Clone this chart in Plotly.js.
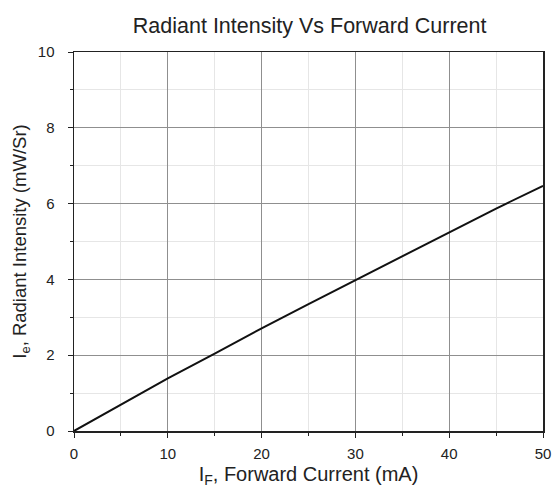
<!DOCTYPE html>
<html><head><meta charset="utf-8">
<script src="https://cdn.plot.ly/plotly-3.0.1.min.js"></script>
<style>html,body{margin:0;padding:0;background:#fff}#chart{width:552px;height:488px}</style>
</head><body><div id="chart"></div>
<script>
const forwardCurrent = [0, 5, 10, 15, 20, 25, 30, 35, 40, 45, 50];
const radiantIntensity = [0, 0.70, 1.39, 2.04, 2.71, 3.35, 3.98, 4.62, 5.24, 5.87, 6.47];
const chartTitle = 'Radiant Intensity Vs Forward Current';
const xTitle = 'I<sub>F</sub>, Forward Current (mA)';
const yTitle = 'I<sub>e</sub>, Radiant Intensity (mW/Sr)';

const font = {family: 'Liberation Sans, Arial, sans-serif', color: '#222'};
Plotly.newPlot('chart', [{
  x: forwardCurrent, y: radiantIntensity, type: 'scatter', mode: 'lines',
  line: {color: '#111', width: 2}, showlegend: false
}], {
  width: 552, height: 488,
  margin: {l: 74, r: 9, t: 52, b: 57},
  paper_bgcolor: '#fff', plot_bgcolor: '#fff',
  font: Object.assign({size: 15}, font),
  title: {text: chartTitle, x: 0.561, xanchor: 'center', y: 0.947, yanchor: 'middle', font: Object.assign({size: 21.5}, font)},
  xaxis: {
    range: [0, 50], dtick: 10, tick0: 0,
    ticks: 'outside', ticklen: 5, tickcolor: '#222', tickwidth: 1,
    showline: true, linecolor: '#222', linewidth: 1.5, mirror: true,
    showgrid: true, gridcolor: '#8f8f8f', gridwidth: 1, zeroline: false,
    minor: {dtick: 5, ticks: 'outside', ticklen: 3, tickcolor: '#222', showgrid: true, gridcolor: '#e6e6e6'},
    ticklabelstandoff: 3,
    title: {text: xTitle, standoff: 7, font: Object.assign({size: 20}, font)},
    tickfont: Object.assign({size: 15}, font)
  },
  yaxis: {
    range: [0, 10], dtick: 2, tick0: 0,
    ticks: 'outside', ticklen: 5, tickcolor: '#222', tickwidth: 1,
    showline: true, linecolor: '#222', linewidth: 1.5, mirror: true,
    showgrid: true, gridcolor: '#8f8f8f', gridwidth: 1, zeroline: false,
    minor: {dtick: 1, ticks: 'outside', ticklen: 3, tickcolor: '#222', showgrid: true, gridcolor: '#e6e6e6'},
    ticklabelstandoff: 10,
    title: {text: yTitle, standoff: 6, font: Object.assign({size: 18.5}, font)},
    tickfont: Object.assign({size: 15}, font)
  }
}, {displayModeBar: false, staticPlot: true});
</script>
</body></html>
